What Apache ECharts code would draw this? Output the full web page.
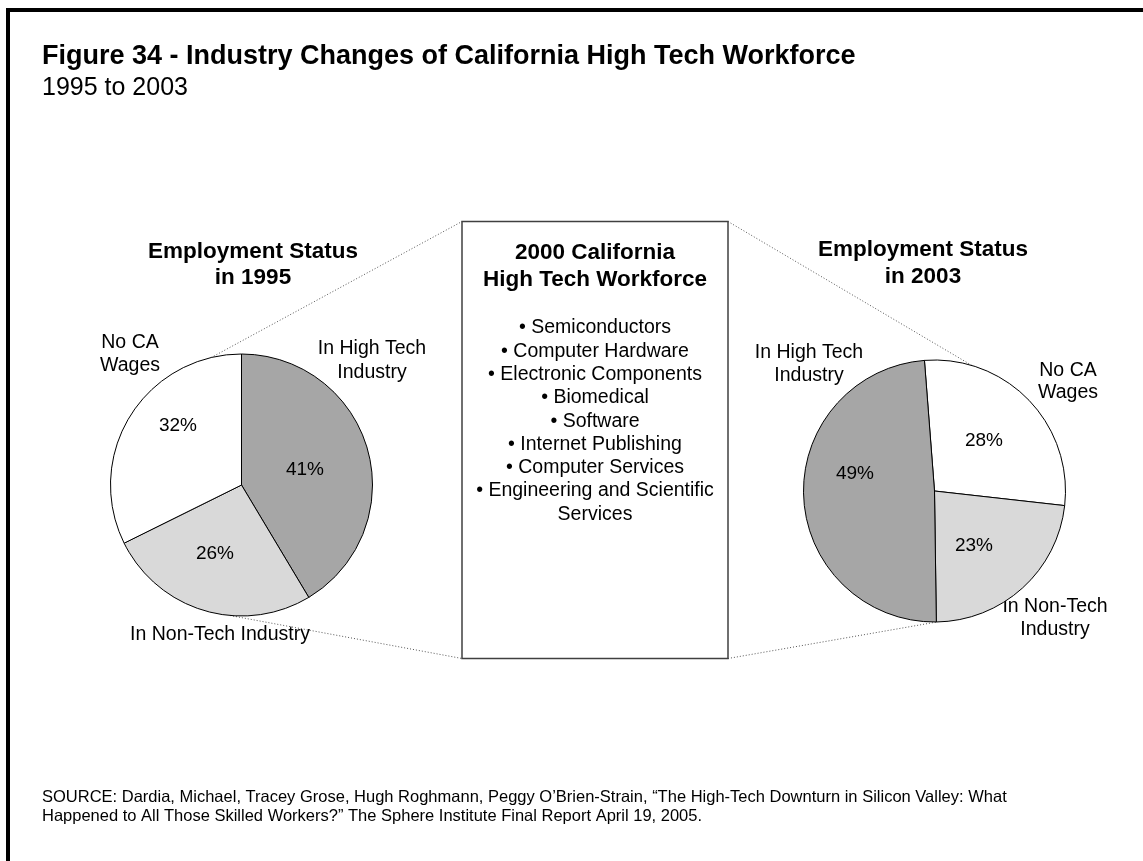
<!DOCTYPE html>
<html>
<head>
<meta charset="utf-8">
<title>Industry Changes of California High Tech Workforce</title>
<script src="https://cdn.jsdelivr.net/npm/echarts@6/dist/echarts.min.js"></script>
<style>
  html, body { margin: 0; padding: 0; background: #ffffff; }
  #chart { width: 1143px; height: 861px; }
</style>
</head>
<body>
<div id="chart"></div>
<script>
// ---- data ----
const categories1995 = ['In High Tech Industry', 'In Non-Tech Industry', 'No CA Wages'];
const values1995 = [41, 26, 32];
const categories2003 = ['No CA Wages', 'In Non-Tech Industry', 'In High Tech Industry'];
const values2003 = [28, 23, 49];
const workforceList = [
  '• Semiconductors',
  '• Computer Hardware',
  '• Electronic Components',
  '• Biomedical',
  '• Software',
  '• Internet Publishing',
  '• Computer Services',
  '• Engineering and Scientific',
  'Services'
];

// ---- styling ----
const FONT = "'Liberation Sans', Arial, sans-serif";
const sliceColor = {
  'In High Tech Industry': '#a6a6a6',
  'In Non-Tech Industry': '#d9d9d9',
  'No CA Wages': '#ffffff'
};
const pieL = { cx: 241.5, cy: 485, r: 131 };
const pieR = { cx: 934.5, cy: 491, r: 131 };

// where the percentage labels sit
const pctPosL = [[305, 470], [215, 554], [178, 426]];
const pctPosR = [[984, 441], [974, 546], [855, 474]];

// category name labels (multi-line, centred)
const nameLabels = [
  { lines: ['No CA', 'Wages'], x: 130, y: [343, 366] },
  { lines: ['In High Tech', 'Industry'], x: 372, y: [349, 373] },
  { lines: ['In Non-Tech Industry'], x: 220, y: [635] },
  { lines: ['In High Tech', 'Industry'], x: 809, y: [353, 376] },
  { lines: ['No CA', 'Wages'], x: 1068, y: [371, 393] },
  { lines: ['In Non-Tech', 'Industry'], x: 1055, y: [607, 630] }
];

const box = { x: 462, y: 221.5, w: 266, h: 437 };

function onPie(p, degFromTop) {
  const a = degFromTop * Math.PI / 180;
  return [p.cx + p.r * Math.sin(a), p.cy - p.r * Math.cos(a)];
}

function makePie(values, cats, p, startAngle, pos) {
  return {
    type: 'pie',
    center: [p.cx, p.cy],
    radius: p.r,
    startAngle: startAngle,
    clockwise: true,
    silent: true,
    animation: false,
    avoidLabelOverlap: false,
    data: values.map((v, i) => ({
      name: cats[i],
      value: v,
      itemStyle: { color: sliceColor[cats[i]] }
    })),
    itemStyle: { borderColor: '#000000', borderWidth: 1 },
    label: {
      show: true,
      position: 'inside',
      formatter: '{c}%',
      fontFamily: FONT,
      fontSize: 19,
      color: '#000000'
    },
    labelLine: { show: false },
    labelLayout: function (params) {
      const xy = pos[params.dataIndex];
      return { x: xy[0], y: xy[1], align: 'center', verticalAlign: 'middle' };
    },
    emphasis: { disabled: true }
  };
}

function txt(text, x, y, size, bold, align) {
  return {
    type: 'text',
    x: x, y: y,
    silent: true,
    style: {
      text: text,
      fill: '#000000',
      font: (bold ? 'bold ' : '') + size + 'px ' + FONT,
      textAlign: align || 'center',
      textVerticalAlign: 'middle'
    }
  };
}

function dotted(a, b) {
  return {
    type: 'line',
    silent: true,
    shape: { x1: a[0], y1: a[1], x2: b[0], y2: b[1] },
    style: { stroke: '#555555', lineWidth: 1, lineDash: [1, 2] }
  };
}

const graphics = [];
// frame
graphics.push({
  type: 'rect', silent: true,
  shape: { x: 8, y: 10, width: 2000, height: 2000 },
  style: { fill: 'none', stroke: '#000000', lineWidth: 4 }
});
// titles
graphics.push(txt('Figure 34 - Industry Changes of California High Tech Workforce', 42, 57, 27, true, 'left'));
graphics.push(txt('1995 to 2003', 42, 88, 25, false, 'left'));
graphics.push(txt('Employment Status', 253, 252, 22.5, true));
graphics.push(txt('in 1995', 253, 278, 22.5, true));
graphics.push(txt('Employment Status', 923, 250, 22.5, true));
graphics.push(txt('in 2003', 923, 277, 22.5, true));

// connector lines between the pies and the centre box
graphics.push(dotted(onPie(pieL, -13.4), [box.x, box.y]));
graphics.push(dotted(onPie(pieL, 185), [box.x, box.y + box.h]));
graphics.push(dotted([box.x + box.w, box.y], onPie(pieR, 16.6)));
graphics.push(dotted([box.x + box.w, box.y + box.h], onPie(pieR, 179)));

// centre box
graphics.push({
  type: 'rect', silent: true,
  shape: { x: box.x, y: box.y, width: box.w, height: box.h },
  style: { fill: '#ffffff', stroke: '#404040', lineWidth: 1.5 }
});
const boxCx = box.x + box.w / 2;
graphics.push(txt('2000 California', boxCx, 253, 22.5, true));
graphics.push(txt('High Tech Workforce', boxCx, 280, 22.5, true));
workforceList.forEach((t, i) => {
  graphics.push(txt(t, boxCx, 328 + i * 23.3, 19.5, false));
});

// slice names
nameLabels.forEach(l => {
  l.lines.forEach((t, i) => graphics.push(txt(t, l.x, l.y[i], 19.5, false)));
});

// source note
graphics.push(txt('SOURCE: Dardia, Michael, Tracey Grose, Hugh Roghmann, Peggy O\u2019Brien-Strain, \u201CThe High-Tech Downturn in Silicon Valley: What', 42, 797, 16.5, false, 'left'));
graphics.push(txt('Happened to All Those Skilled Workers?\u201D The Sphere Institute Final Report April 19, 2005.', 42, 816, 16.5, false, 'left'));

const chart = echarts.init(document.getElementById('chart'), null, { renderer: 'canvas' });
chart.setOption({
  backgroundColor: '#ffffff',
  animation: false,
  series: [
    makePie(values1995, categories1995, pieL, 90, pctPosL),
    makePie(values2003, categories2003, pieR, 94.4, pctPosR)
  ],
  graphic: graphics
});
</script>
</body>
</html>
